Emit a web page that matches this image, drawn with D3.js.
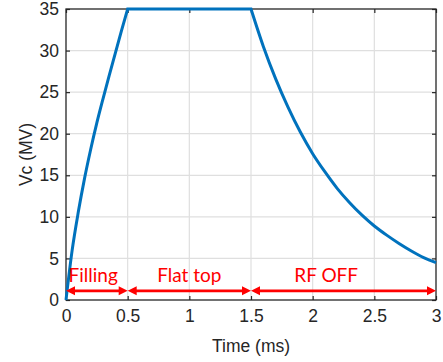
<!DOCTYPE html>
<html><head><meta charset="utf-8">
<script src="https://cdn.jsdelivr.net/npm/d3@7"></script>
<style>html,body{margin:0;padding:0;background:#fff;}svg{display:block;}</style>
</head><body>
<svg id="c" width="443" height="362"></svg>
<script>
// Data (three phases of the pulse)
const fillTime  = [0, 0.05, 0.1, 0.15, 0.2, 0.25, 0.3, 0.35, 0.4, 0.45, 0.5];
const fillVc    = [0, 6.0, 10.6, 14.6, 18.1, 21.3, 24.2, 27.0, 29.7, 32.4, 35];
const flatTime  = [0.5, 1.0, 1.5];
const flatVc    = [35, 35, 35];
const decayTime = [1.5, 1.6, 1.7, 1.8, 1.9, 2.0, 2.1, 2.2, 2.3, 2.4, 2.5, 2.6, 2.7, 2.8, 2.9, 3.0];
const decayVc   = [35, 30.5, 26.6, 23.2, 20.2, 17.6, 15.4, 13.4, 11.7, 10.2, 8.9, 7.8, 6.8, 5.9, 5.1, 4.5];
const xTicks = [0, 0.5, 1, 1.5, 2, 2.5, 3];
const xTickLabels = ["0", "0.5", "1", "1.5", "2", "2.5", "3"];
const yTicks = [0, 5, 10, 15, 20, 25, 30, 35];
const phaseNames = ["Filling", "Flat top", "RF OFF"];
const phaseStart = [0, 0.5, 1.5];
const phaseEnd = [0.5, 1.5, 3];
const phaseLabelX = [0.22, 1.0, 2.11];
const arrowLevel = 1.1; // MV, level of phase arrows
const labelLevel = 2.2; // MV, baseline of phase labels

const svg = d3.select("#c");
const L = 66, R = 436, T = 9, B = 300;
const x = d3.scaleLinear().domain([0, 3]).range([L, R]);
const y = d3.scaleLinear().domain([0, 35]).range([B, T]);
const axisColor = "#262626";
const font = "'Liberation Sans', Arial, sans-serif";

// grid
const g = svg.append("g");
g.selectAll("line.gx").data(xTicks.slice(1, -1)).join("line")
  .attr("x1", d => x(d)).attr("x2", d => x(d)).attr("y1", T).attr("y2", B)
  .attr("stroke", "#dfdfdf").attr("stroke-width", 1.2);
g.selectAll("line.gy").data(yTicks.slice(1, -1)).join("line")
  .attr("y1", d => y(d)).attr("y2", d => y(d)).attr("x1", L).attr("x2", R)
  .attr("stroke", "#dfdfdf").attr("stroke-width", 1.2);

// axes
function styleAxis(sel) {
  sel.select(".domain").remove();
  sel.selectAll(".tick line").attr("stroke", axisColor).attr("stroke-width", 1.2);
  sel.selectAll(".tick text").attr("fill", axisColor).attr("font-family", font).attr("font-size", "17.5px");
}
const xa = svg.append("g").attr("transform", `translate(0,${B})`)
  .call(d3.axisBottom(x).tickValues(xTicks).tickFormat((d, i) => xTickLabels[i]).tickSizeInner(-4).tickPadding(10));
styleAxis(xa);
const xt = svg.append("g").attr("transform", `translate(0,${T})`)
  .call(d3.axisTop(x).tickValues(xTicks).tickFormat("").tickSizeInner(-4));
styleAxis(xt);
const ya = svg.append("g").attr("transform", `translate(${L},0)`)
  .call(d3.axisLeft(y).tickValues(yTicks).tickSizeInner(-4).tickPadding(7));
styleAxis(ya);
const yr = svg.append("g").attr("transform", `translate(${R},0)`)
  .call(d3.axisRight(y).tickValues(yTicks).tickFormat("").tickSizeInner(-4));
styleAxis(yr);

// box
svg.append("rect").attr("x", L).attr("y", T).attr("width", R - L).attr("height", B - T)
  .attr("fill", "none").attr("stroke", axisColor).attr("stroke-width", 1.3);

// axis labels
svg.append("text").attr("x", (L + R) / 2).attr("y", 352).attr("text-anchor", "middle")
  .attr("font-family", font).attr("font-size", "17.5px").attr("fill", axisColor).text("Time (ms)");
svg.append("text").attr("transform", `translate(32,${(T + B) / 2}) rotate(-90)`).attr("text-anchor", "middle")
  .attr("font-family", font).attr("font-size", "17.5px").attr("fill", axisColor).text("Vc (MV)");

// curve: each phase is smooth, corners between phases stay sharp
const segs = [[fillTime, fillVc], [flatTime, flatVc], [decayTime, decayVc]];
const segPts = segs.map(([ts, vs]) => ts.map((t, i) => [t, vs[i]]));
const lineGen = d3.line().x(d => x(d[0])).y(d => y(d[1])).curve(d3.curveMonotoneX);
const pathD = segPts.map(p => lineGen(p)).map((d, i) => i === 0 ? d : d.replace(/^M/, "L")).join("");
svg.append("path").attr("d", pathD)
  .attr("fill", "none").attr("stroke", "#0072BD").attr("stroke-width", 3).attr("stroke-linejoin", "miter");

// phase arrows
const red = "#ff0000";
const ah = 9, aw = 4.5;
phaseNames.forEach((name, i) => {
  const x1 = x(phaseStart[i]), x2 = x(phaseEnd[i]), yy = y(arrowLevel);
  svg.append("line").attr("x1", x1 + ah - 1).attr("x2", x2 - ah + 1).attr("y1", yy).attr("y2", yy)
    .attr("stroke", red).attr("stroke-width", 2.8);
  svg.append("path").attr("d", `M${x1},${yy}L${x1 + ah},${yy - aw}L${x1 + ah},${yy + aw}Z`).attr("fill", red);
  svg.append("path").attr("d", `M${x2},${yy}L${x2 - ah},${yy - aw}L${x2 - ah},${yy + aw}Z`).attr("fill", red);
  svg.append("text").attr("x", x(phaseLabelX[i])).attr("y", y(labelLevel)).attr("text-anchor", "middle")
    .attr("font-family", "Lato, 'Open Sans', sans-serif").attr("font-size", "19px").attr("fill", red).text(name);
});
</script>
</body></html>
